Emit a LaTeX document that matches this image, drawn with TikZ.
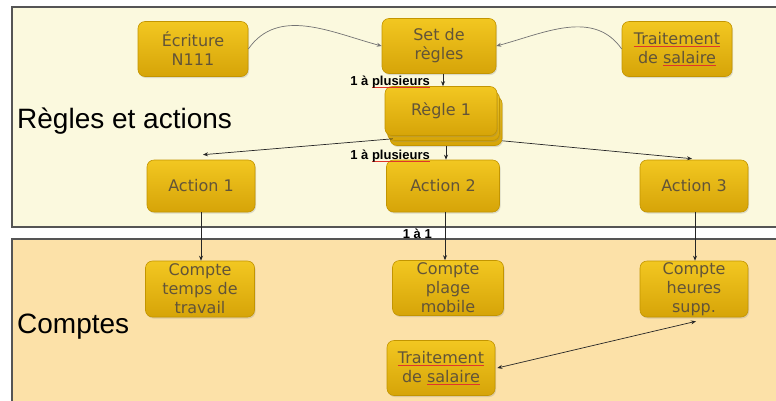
\documentclass[tikz,border=0pt]{standalone}
\usepackage{fontspec}
\setmainfont{DejaVu Sans}
\newfontfamily\arialfont{Liberation Sans}
\usetikzlibrary{arrows.meta,shadows,calc}
\definecolor{toppanel}{HTML}{FBF9DE}
\definecolor{botpanel}{HTML}{FCE1A8}
\definecolor{panelline}{HTML}{555555}
\definecolor{goldtop}{HTML}{F2C721}
\definecolor{goldbot}{HTML}{D6A408}
\definecolor{goldline}{HTML}{C39500}
\definecolor{nodetext}{HTML}{625438}
\definecolor{squig}{HTML}{E0352B}
\newcommand\redul[1]{\setbox0\hbox{#1}\leavevmode\rlap{\color{squig}\rule[-2.5pt]{\wd0}{0.7pt}}\box0}
\tikzset{
  box/.style={draw=goldline, line width=0.6pt, rounded corners=7pt,
    top color=goldtop, bottom color=goldbot, text=nodetext,
    font=\fontsize{16}{19}\selectfont, align=center, inner sep=0pt,
    drop shadow={shadow xshift=1pt, shadow yshift=-1.5pt, opacity=0.25}},
  arr/.style={draw=black!85, line width=0.7pt, -{Stealth[length=5pt,width=4pt]}},
  curvearr/.style={draw=black!55, line width=0.7pt, -{Stealth[length=5pt,width=4pt]}},
  panel/.style={draw=panelline, line width=1.2pt},
  biglabel/.style={font=\arialfont\fontsize{28}{30}\selectfont, anchor=base west, inner sep=0pt},
  smalllabel/.style={font=\arialfont\bfseries\fontsize{13}{14}\selectfont, anchor=base east, inner sep=0pt}
}
\begin{document}
\begin{tikzpicture}[x=1pt,y=-1pt]
\useasboundingbox (0,0) rectangle (776,400);
\clip (0,0) rectangle (776,400);
\fill[white] (0,0) rectangle (776,400);
% panels
\filldraw[panel, fill=toppanel] (12,7) rectangle (800,227);
\filldraw[panel, fill=botpanel] (12,239) rectangle (800,420);
\node[biglabel] (lregles) at (17,128) {Règles et actions};
\node[biglabel] (lcomptes) at (17,333) {Comptes};
% top row
\node[box, minimum width=110pt, minimum height=55pt] (ecr) at (193,49) {Écriture\\N111};
\node[box, minimum width=114pt, minimum height=55pt] (set) at (439,46) {Set de\\règles};
\node[box, minimum width=110pt, minimum height=55pt] (tra) at (677,49) {\redul{Traitement}\\de \redul{salaire}};
% Regle stack
\node[box, minimum width=112pt, minimum height=49pt] (regle3) at (446,121) {};
\node[box, minimum width=112pt, minimum height=49pt] (regle2) at (443.5,116) {};
\node[box, minimum width=112pt, minimum height=49pt] (regle) at (441,111) {Règle 1};
% actions
\node[box, minimum width=108pt, minimum height=52pt] (act1) at (201,186) {Action 1};
\node[box, minimum width=113pt, minimum height=52pt] (act2) at (443,186) {Action 2};
\node[box, minimum width=108pt, minimum height=52pt] (act3) at (694,186) {Action 3};
% comptes
\node[box, minimum width=109pt, minimum height=56pt] (c1) at (200,289) {Compte\\temps de\\travail};
\node[box, minimum width=111pt, minimum height=55pt] (c2) at (448,288) {Compte\\plage\\mobile};
\node[box, minimum width=108pt, minimum height=56pt] (c3) at (694,289) {Compte\\heures\\supp.};
\node[box, minimum width=108pt, minimum height=55pt] (tra2) at (441,368) {\redul{Traitement}\\de \redul{salaire}};
% curved arrows
\draw[curvearr] (ecr.east) to[out=55,in=165] (set.west);
\draw[curvearr] (tra.west) to[out=125,in=15] (set.east);
% vertical arrows
\coordinate (s1) at ($(set.south)+(4,0)$);
\draw[arr] (s1) -- (s1 |- regle.north);
\coordinate (s2) at ($(regle3.south)+(0,0)$);
\draw[arr] (s2) -- (s2 |- act2.north);
\draw[arr] ($(regle3.south west)+(3,-7)$) -- ($(act1.north)+(2,-5)$);
\draw[arr] ($(regle3.south east)+(0,-5)$) -- ($(act3.north)+(-2,-1)$);
\draw[arr] (act1.south) -- (act1.south |- c1.north);
\coordinate (s3) at ($(act2.south)+(2,0)$);
\draw[arr] (s3) -- (s3 |- c2.north);
\coordinate (s4) at ($(act3.south)+(1,0)$);
\draw[arr] (s4) -- (s4 |- c3.north);
\draw[draw=black!85, line width=0.7pt, {Stealth[length=5pt,width=4pt]}-{Stealth[length=5pt,width=4pt]}] ($(tra2.east)+(2,0)$) -- ($(c3.south)+(2,4)$);
% labels
\node[smalllabel] (lab1) at (430,85) {1 à \redul{plusieurs}};
\node[smalllabel] (lab2) at (430,159) {1 à \redul{plusieurs}};
\node[smalllabel] (lab3) at (432,238) {1 à 1};
\end{tikzpicture}
\end{document}
